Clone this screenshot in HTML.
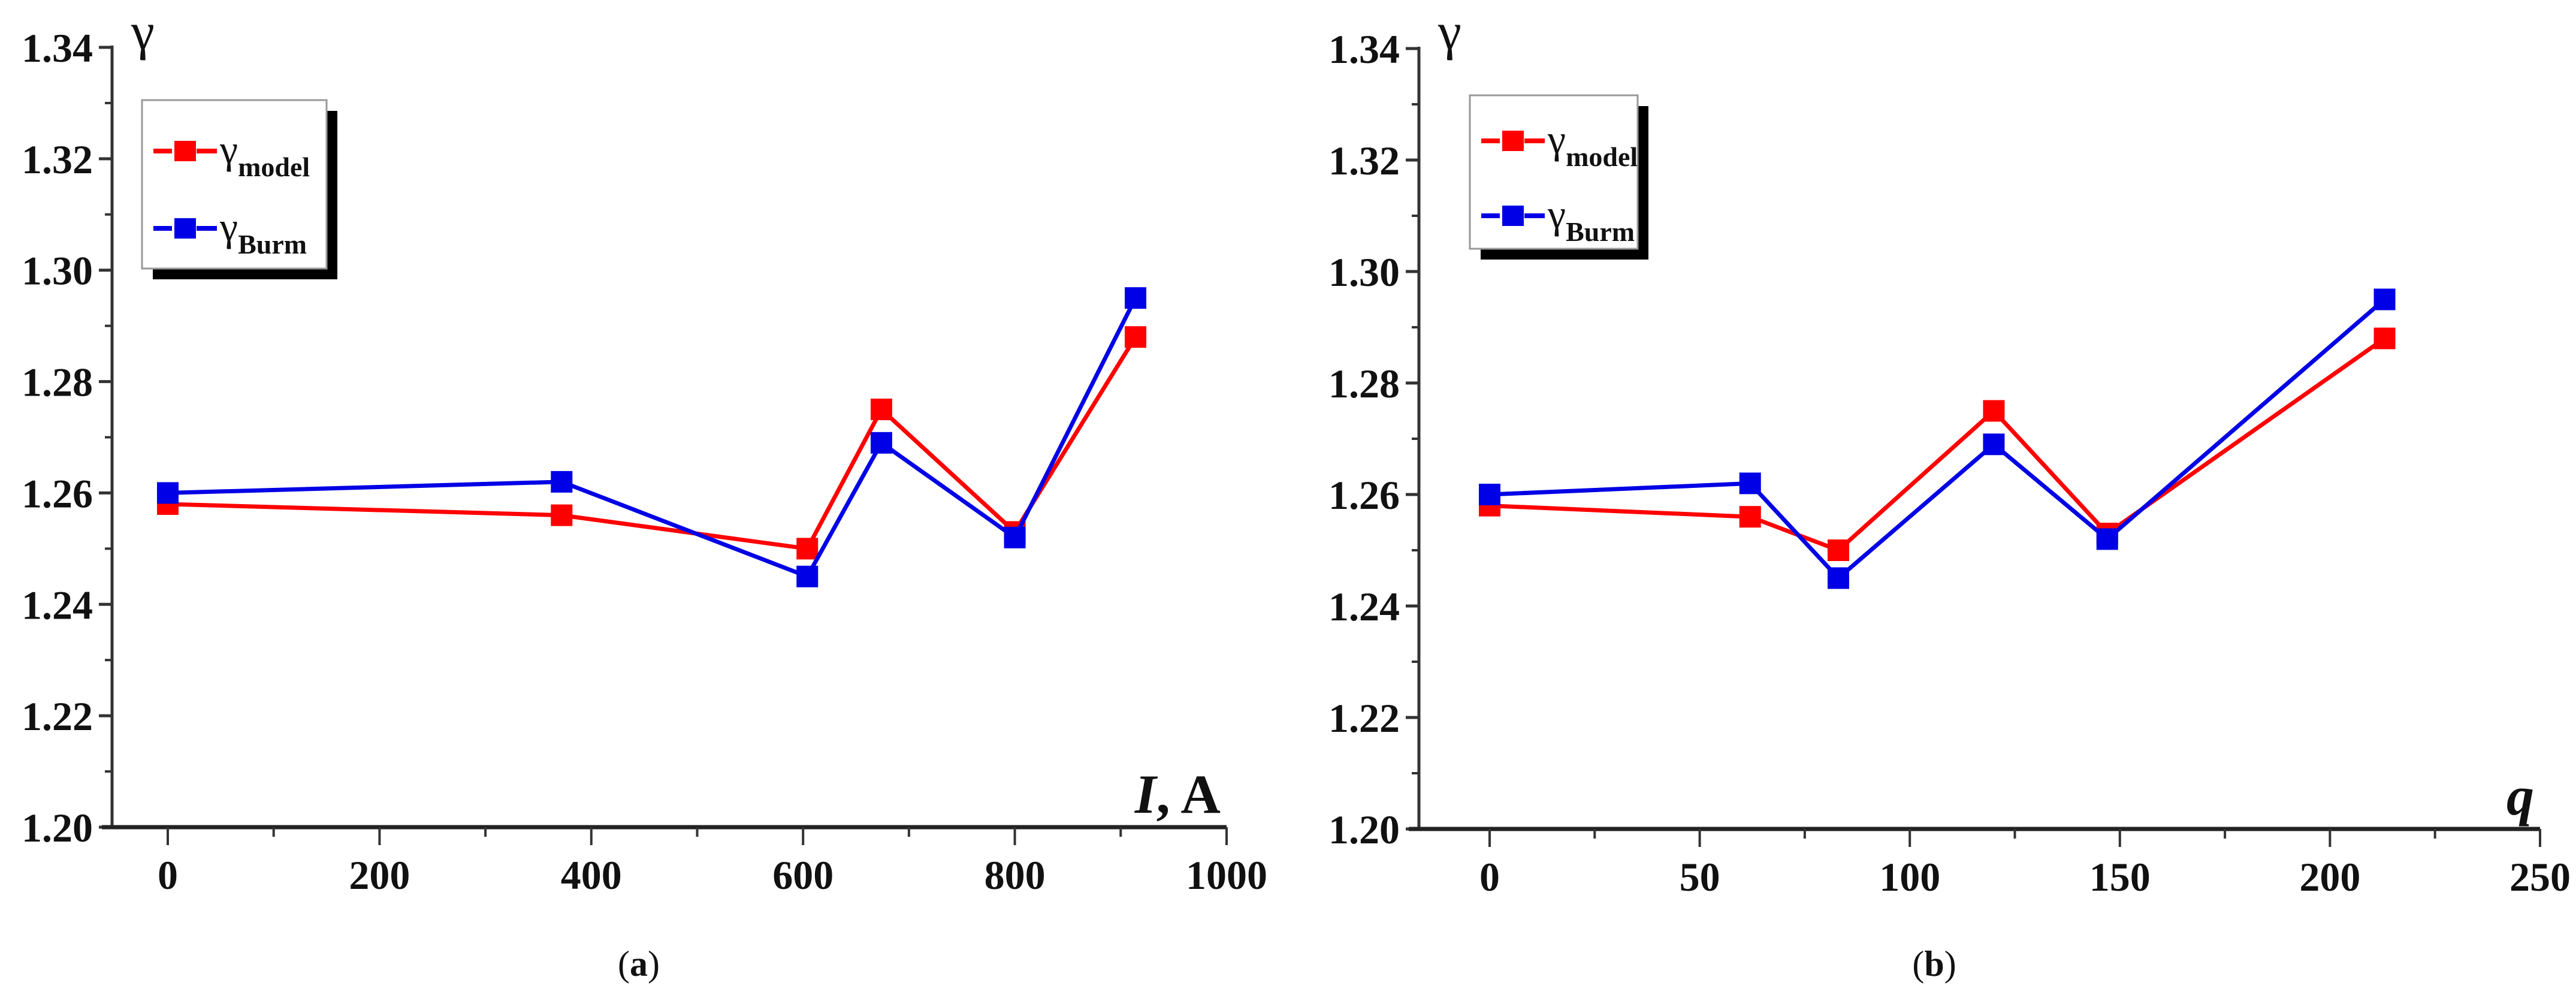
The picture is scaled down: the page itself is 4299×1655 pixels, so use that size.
<!DOCTYPE html>
<html><head><meta charset="utf-8"><style>
html,body{margin:0;padding:0;background:#fff;}
svg{display:block;font-family:"Liberation Serif",serif;}
</style></head><body>
<svg id="s" width="4299" height="1655" viewBox="0 0 4299 1655" xmlns="http://www.w3.org/2000/svg"></svg>
<script>
const xA = [0, 372, 604, 674, 800, 914];
const xB = [0, 62, 83, 120, 147, 213];
const modelVals = [1.258, 1.256, 1.250, 1.275, 1.253, 1.288];
const burmVals = [1.260, 1.262, 1.245, 1.269, 1.252, 1.295];
const yTicks = [1.20, 1.22, 1.24, 1.26, 1.28, 1.30, 1.32, 1.34];
const xTicksA = [0, 200, 400, 600, 800, 1000];
const xTicksB = [0, 50, 100, 150, 200, 250];

const NS = "http://www.w3.org/2000/svg";
const svg = document.getElementById('s');
function mk(tag, attrs, parent, txt){
  const e = document.createElementNS(NS, tag);
  for (const k in attrs) e.setAttribute(k, attrs[k]);
  if (txt !== undefined) e.textContent = txt;
  (parent || svg).appendChild(e);
  return e;
}

function panel(cfg){
  const g = mk('g', {});
  
  
  const yS = v => cfg.y0 + (v - 1.20) / 0.14 * (cfg.y1 - cfg.y0);
  const xS = v => cfg.x0 + v / cfg.xmax * (cfg.x1 - cfg.x0);
  // y axis
  const ya = mk('line', {x1: cfg.ax, y1: cfg.y1 - 3, x2: cfg.ax, y2: cfg.y0 + 3, stroke: '#333', 'stroke-width': 5}, g);
  
  
  for (let i = 0; i < yTicks.length; i++) {
    const v = yTicks[i];
    const y = yS(v);
    mk('line', {x1: cfg.ax - 22, y1: y, x2: cfg.ax, y2: y, stroke: '#333', 'stroke-width': 5}, g);
    const t = mk('text', {x: cfg.ax - 32, y: y + 24, 'text-anchor': 'end', 'font-size': 68, 'font-weight': 'bold', fill: '#111'}, g, v.toFixed(2));
    
    
    if (i < yTicks.length - 1) {
      const ym = yS(v + 0.01);
      mk('line', {x1: cfg.ax - 12, y1: ym, x2: cfg.ax, y2: ym, stroke: '#333', 'stroke-width': 4}, g);
    }
  }
  // x axis
  const xa = mk('line', {x1: cfg.ax - 17, y1: cfg.y0, x2: cfg.x1, y2: cfg.y0, stroke: '#222', 'stroke-width': 7}, g);
  
  
  for (let i = 0; i < cfg.ticks.length; i++) {
    const v = cfg.ticks[i];
    const x = xS(v);
    mk('line', {x1: x, y1: cfg.y0, x2: x, y2: cfg.y0 + 30, stroke: '#333', 'stroke-width': 4}, g);
    const t = mk('text', {x: x, y: cfg.y0 + 103, 'text-anchor': 'middle', 'font-size': 68, 'font-weight': 'bold', fill: '#111'}, g, String(v));
    
    
    if (i < cfg.ticks.length - 1) {
      const xm = xS((v + cfg.ticks[i + 1]) / 2);
      mk('line', {x1: xm, y1: cfg.y0, x2: xm, y2: cfg.y0 + 16, stroke: '#333', 'stroke-width': 4}, g);
    }
  }
  // series
  const series = [[modelVals, '#ff0000', 'series-model'], [burmVals, '#0000e6', 'series-burm']];
  for (const [vals, col, nm] of series) {
    const pts = cfg.xs.map((xv, i) => xS(xv) + ',' + yS(vals[i])).join(' ');
    const pl = mk('polyline', {points: pts, fill: 'none', stroke: col, 'stroke-width': 7}, g);
    
    
    for (let i = 0; i < cfg.xs.length; i++) {
      const r = mk('rect', {x: xS(cfg.xs[i]) - 18, y: yS(vals[i]) - 18, width: 36, height: 36, fill: col}, g);
      
      
    }
  }
  // axis titles
  const yt = mk('text', {x: cfg.ax + 32, y: 82, 'font-size': 88, fill: '#111'}, g, 'γ');
  
  
  const xt = mk('text', {x: cfg.x1 - 10, y: cfg.y0 - 24, 'text-anchor': 'end', 'font-size': 92, 'font-weight': 'bold', fill: '#111'}, g);
  
  
  mk('tspan', {'font-style': 'italic'}, xt, cfg.xlab);
  if (cfg.xunit) mk('tspan', {}, xt, cfg.xunit);
  // legend
  const L = cfg.leg;
  const lg = mk('g', {}, g);
  
  
  mk('rect', {x: L.x + 18, y: L.y + 18, width: L.w, height: L.h, fill: '#000'}, lg);
  mk('rect', {x: L.x, y: L.y, width: L.w, height: L.h, fill: '#fff', stroke: '#999', 'stroke-width': 3}, lg);
  const ents = [['#ff0000', 'model', L.r1, 'legend-entry-model'], ['#0000e6', 'Burm', L.r2, 'legend-entry-burm']];
  for (const [col, sub, yy, nm] of ents) {
    const e = mk('g', {}, lg);
    
    
    mk('line', {x1: L.x + 19, y1: yy, x2: L.x + 125, y2: yy, stroke: col, 'stroke-width': 8, 'stroke-dasharray': '28,8,0,0'}, e);
    mk('line', {x1: L.x + 19, y1: yy, x2: L.x + 50, y2: yy, stroke: col, 'stroke-width': 8}, e);
    mk('line', {x1: L.x + 94, y1: yy, x2: L.x + 125, y2: yy, stroke: col, 'stroke-width': 8}, e);
    mk('rect', {x: L.x + 54, y: yy - 17, width: 36, height: 34, fill: col}, e);
    const t = mk('text', {x: L.x + 130, y: yy + 20, 'font-size': 68, fill: '#111'}, e, 'γ');
    mk('tspan', {'font-size': 46, 'font-weight': 'bold', dy: 22}, t, sub);
  }
  // caption
  const c = mk('text', {x: cfg.cap, y: 1628, 'text-anchor': 'middle', 'font-size': 60, fill: '#111'}, g);
  
  
  mk('tspan', {}, c, '(');
  mk('tspan', {'font-weight': 'bold'}, c, cfg.capl);
  mk('tspan', {}, c, ')');
}

panel({name: 'chart-a', ax: 187, x0: 280, x1: 2047, xmax: 1000, y0: 1380, y1: 79, ticks: xTicksA, xs: xA,
  xlab: 'I', xunit: ', A', leg: {x: 237, y: 167, w: 308, h: 281, r1: 252, r2: 381}, cap: 1066, capl: 'a'});
panel({name: 'chart-b', ax: 2368, x0: 2486, x1: 4239, xmax: 250, y0: 1383, y1: 81, ticks: xTicksB, xs: xB,
  xlab: 'q', xunit: '', leg: {x: 2453, y: 159, w: 280, h: 256, r1: 235, r2: 360}, cap: 3228, capl: 'b'});
</script>
</body></html>
